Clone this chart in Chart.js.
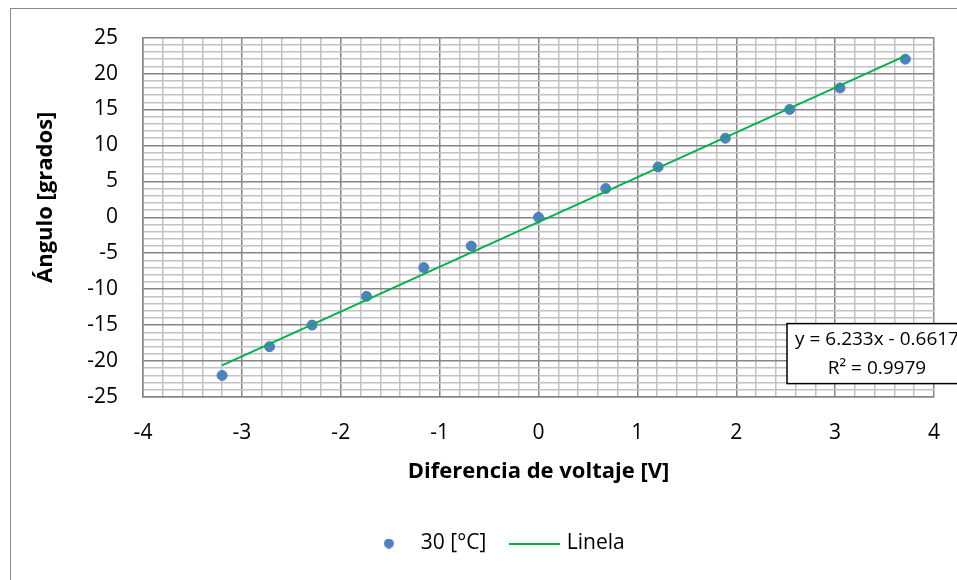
<!DOCTYPE html>
<html>
<head>
<meta charset="utf-8">
<script src="https://cdn.jsdelivr.net/npm/chart.js@4/dist/chart.umd.min.js"></script>
<style>
  html, body { margin: 0; padding: 0; background: #fff; overflow: hidden; }
</style>
</head>
<body>
<canvas id="grafico" width="957" height="580"></canvas>
<script>
// datos
const voltaje = [-3.2, -2.72, -2.29, -1.74, -1.16, -0.68, 0, 0.68, 1.21, 1.89, 2.54, 3.05, 3.71];
const angulo = [-22, -18, -15, -11, -7, -4, 0, 4, 7, 11, 15, 18, 22];

// extremos de la línea de tendencia
const lineaX = [-3.2, 3.71];
const lineaY = [-20.61, 22.46];

const nombreSerie = '30 [°C]';
const nombreLinea = 'Linela';
const tituloX = 'Diferencia de voltaje [V]';
const tituloY = 'Ángulo [grados]';
const ecuacion = ['y = 6.233x - 0.6617', 'R² = 0.9979'];

const fuente = '"Open Sans", Lato, sans-serif';
const gridMayor = '#868686';
const gridMenor = '#c2c2c2';

function esMayor(v, paso) {
    const r = v / paso;
    return Math.abs(r - Math.round(r)) < 1e-6;
}

// símbolos de la leyenda
const simboloPunto = document.createElement('canvas');
simboloPunto.width = 10; simboloPunto.height = 10;
(function() {
    const c = simboloPunto.getContext('2d');
    c.fillStyle = '#4f81bd';
    c.beginPath(); c.arc(5, 5, 5, 0, Math.PI * 2); c.fill();
})();
const simboloLinea = document.createElement('canvas');
simboloLinea.width = 51; simboloLinea.height = 2;
(function() {
    const c = simboloLinea.getContext('2d');
    c.fillStyle = '#00b050';
    c.fillRect(0, 0, 51, 2);
})();

// marco exterior y cuadro de la ecuación
const decoracion = {
    id: 'decoracion',
    beforeDraw(chart) {
        const ctx = chart.ctx;
        ctx.save();
        ctx.fillStyle = '#fff';
        ctx.fillRect(0, 0, chart.width, chart.height);
        ctx.strokeStyle = '#8c8c8c';
        ctx.lineWidth = 1;
        ctx.strokeRect(10.5, 8.5, 1200, 1200);
        ctx.restore();
    },
    afterLayout(chart) {
        // Excel centra la leyenda un poco más a la derecha
        chart.legend.left += 24;
        chart.legend.right += 24;
    },
    afterDatasetsDraw(chart) {
        const ctx = chart.ctx;
        const a = chart.chartArea;
        const izq = a.right - 147, arr = a.top + 286;
        const w = 180, h = 60;
        ctx.save();
        ctx.fillStyle = '#fff';
        ctx.fillRect(izq, arr, w, h);
        ctx.strokeStyle = '#000';
        ctx.lineWidth = 1.5;
        ctx.strokeRect(izq, arr, w, h);
        ctx.fillStyle = '#000';
        ctx.font = '19px ' + fuente;
        ctx.textAlign = 'center';
        ctx.textBaseline = 'middle';
        ctx.fillText(ecuacion[0], izq + 90, arr + 16);
        ctx.fillText(ecuacion[1], izq + 90, arr + 45);
        ctx.restore();
    }
};

const ctx = document.getElementById('grafico').getContext('2d');

new Chart(ctx, {
    type: 'scatter',
    data: {
        datasets: [
            {
                label: nombreSerie,
                data: voltaje.map((x, i) => ({ x: x, y: angulo[i] })),
                backgroundColor: '#4f81bd',
                borderColor: '#4f81bd',
                pointRadius: 5,
                pointHoverRadius: 5,
                order: 1
            },
            {
                label: nombreLinea,
                data: lineaX.map((x, i) => ({ x: x, y: lineaY[i] })),
                showLine: true,
                borderColor: '#00b050',
                borderWidth: 2,
                pointRadius: 0,
                order: 0
            }
        ]
    },
    options: {
        responsive: false,
        animation: false,
        events: [],
        layout: { padding: { left: 10, top: 37, right: 23, bottom: 16 } },
        scales: {
            x: {
                type: 'linear',
                min: -4,
                max: 4,
                grid: {
                    drawTicks: false,
                    lineWidth: 1.5,
                    color: c => esMayor(c.tick.value, 1) ? gridMayor : gridMenor
                },
                border: { color: gridMayor, width: 1.5 },
                ticks: {
                    stepSize: 0.2,
                    maxTicksLimit: 100,
                    autoSkip: false,
                    maxRotation: 0,
                    padding: 23,
                    color: '#000',
                    font: { family: fuente, size: 21 },
                    callback: v => esMayor(v, 1) ? String(Math.round(v)) : ''
                },
                title: {
                    display: true,
                    text: tituloX,
                    color: '#000',
                    font: { family: fuente, size: 22, weight: 'bold' },
                    padding: { top: 0, bottom: 21 }
                },
                afterFit: s => { s.height = 109; s.paddingLeft = 0; s.paddingRight = 0; }
            },
            y: {
                type: 'linear',
                min: -25,
                max: 25,
                grid: {
                    drawTicks: false,
                    lineWidth: 1.5,
                    color: c => esMayor(c.tick.value, 5) ? gridMayor : gridMenor
                },
                border: { color: gridMayor, width: 1.5 },
                ticks: {
                    stepSize: 1,
                    maxTicksLimit: 100,
                    autoSkip: false,
                    padding: 25,
                    color: '#000',
                    font: { family: fuente, size: 21 },
                    callback: v => esMayor(v, 5) ? String(Math.round(v)) : ''
                },
                title: {
                    display: true,
                    text: '       ' + tituloY,
                    color: '#000',
                    font: { family: fuente, size: 22, weight: 'bold' },
                    padding: { top: 23, bottom: 0 }
                },
                afterFit: s => { s.width = 133; }
            }
        },
        plugins: {
            tooltip: { enabled: false },
            legend: {
                position: 'bottom',
                labels: {
                    usePointStyle: true,
                    pointStyleWidth: 43,
                    padding: 27,
                    color: '#000',
                    font: { family: fuente, size: 21 },
                    generateLabels: chart => [
                        { text: chart.data.datasets[0].label, pointStyle: simboloPunto, datasetIndex: 0,
                          fillStyle: '#4f81bd', strokeStyle: '#4f81bd', lineWidth: 0, hidden: false, fontColor: '#000' },
                        { text: chart.data.datasets[1].label, pointStyle: simboloLinea, datasetIndex: 1,
                          fillStyle: '#00b050', strokeStyle: '#00b050', lineWidth: 0, hidden: false, fontColor: '#000' }
                    ]
                }
            }
        }
    },
    plugins: [decoracion]
});
</script>
</body>
</html>
